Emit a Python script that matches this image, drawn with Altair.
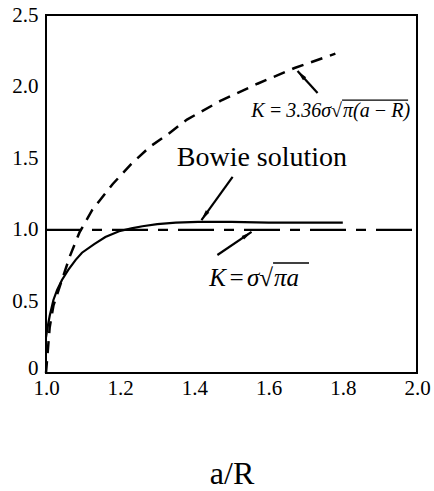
import math
import altair as alt
import pandas as pd

# Normalized stress intensity K / (sigma*sqrt(pi*a)) against crack length a/R
bowie_x = [1.0, 1.005, 1.01, 1.02, 1.03, 1.043, 1.06, 1.08, 1.097, 1.13, 1.16, 1.197, 1.23, 1.26, 1.3, 1.35, 1.41, 1.5, 1.6, 1.7, 1.8]
bowie_y = [0.25, 0.33, 0.40, 0.51, 0.58, 0.65, 0.72, 0.79, 0.84, 0.90, 0.95, 0.99, 1.01, 1.025, 1.04, 1.05, 1.055, 1.055, 1.05, 1.05, 1.05]

# Short-crack approximation K = 3.36 sigma sqrt(pi (a - R))
short_x = [1.0, 1.01, 1.02, 1.043, 1.065, 1.09, 1.125, 1.18, 1.23, 1.28, 1.33, 1.38, 1.47, 1.57, 1.67, 1.78]
short_y = [0.0, 0.32, 0.47, 0.65, 0.82, 0.98, 1.14, 1.32, 1.46, 1.58, 1.67, 1.77, 1.90, 2.02, 2.13, 2.23]

# Long-crack limit K = sigma sqrt(pi a)
long_x = [1.0, 2.0]
long_y = [1.0, 1.0]

x_ticks = [1.0, 1.2, 1.4, 1.6, 1.8, 2.0]
y_ticks = [0.0, 0.5, 1.0, 1.5, 2.0, 2.5]

FONT = "Liberation Serif, Times New Roman, Times, DejaVu Serif, serif"

# Curve name label
name_text = ["Bowie solution"]
name_x = [1.582]
name_y = [1.446]

# Formula labels: the part up to the radical sign ends at the anchor,
# the radicand starts there and carries an overbar
formula_pre = ["K\u2009=\u20093.36σ√", "K\u200a=\u200aσ√"]
formula_rad = ["π(a\u2009−\u2009R)", "πa"]
formula_x = [1.798, 1.612]
formula_y = [1.788, 0.608]
formula_size = [20, 25]
bar_x2 = [1.976, 1.709]
bar_y = [1.906, 0.768]

# Arrows (tail -> head, data units)
arrow_x1 = [1.503, 1.732, 1.462]
arrow_y1 = [1.369, 1.955, 0.824]
arrow_x2 = [1.419, 1.678, 1.554]
arrow_y2 = [1.068, 2.109, 0.985]

W, H = 371, 358
X_DOM, Y_DOM = (1.0, 2.0), (0.0, 2.5)
sx = W / (X_DOM[1] - X_DOM[0])
sy = H / (Y_DOM[1] - Y_DOM[0])

xs = alt.Scale(domain=list(X_DOM), nice=False, zero=False)
ys = alt.Scale(domain=list(Y_DOM), nice=False)

x_axis = alt.Axis(values=x_ticks, format=".1f", title="a/R", grid=False, ticks=False,
                  domain=False, labelFontSize=21, labelPadding=4, labelColor="black",
                  labelFont=FONT, titleFont=FONT, titleFontSize=32, titleFontWeight="normal",
                  titleColor="black", titleY=110, titleBaseline="alphabetic",
                  labelFlush=False)
y_axis = alt.Axis(values=y_ticks, title=None, grid=False, ticks=False, domain=False,
                  labelFontSize=21, labelPadding=8, labelColor="black", labelFont=FONT,
                  labelExpr="datum.value == 0 ? '0' : format(datum.value, '.1f')",
                  labelOffset={"condition": {"test": "datum.value == 0", "value": -5}, "value": 0},
                  labelFlush=False)

bowie_df = pd.DataFrame({"x": bowie_x, "y": bowie_y})
short_df = pd.DataFrame({"x": short_x, "y": short_y})
long_df = pd.DataFrame({"x": long_x, "y": long_y})

bowie = alt.Chart(bowie_df).mark_line(color="black", strokeWidth=2.2).encode(
    x=alt.X("x:Q", scale=xs, axis=x_axis),
    y=alt.Y("y:Q", scale=ys, axis=y_axis),
)
short = alt.Chart(short_df).mark_line(color="black", strokeWidth=2.5, strokeDash=[12, 8]).encode(
    x=alt.X("x:Q", scale=xs), y=alt.Y("y:Q", scale=ys)
)
long_ = alt.Chart(long_df).mark_line(color="black", strokeWidth=2.2, strokeDash=[36, 10, 10, 10]).encode(
    x=alt.X("x:Q", scale=xs), y=alt.Y("y:Q", scale=ys)
)

name_df = pd.DataFrame({"t": name_text, "x": name_x, "y": name_y})
name = alt.Chart(name_df).mark_text(
    font=FONT, fontSize=28, color="black", align="center", baseline="alphabetic"
).encode(x=alt.X("x:Q", scale=xs), y=alt.Y("y:Q", scale=ys), text="t:N")

formula_layers = []
for i in range(len(formula_pre)):
    fdf = pd.DataFrame({"pre": [formula_pre[i]], "rad": [formula_rad[i]],
                        "x": [formula_x[i]], "y": [formula_y[i]],
                        "x2": [bar_x2[i]], "yb": [bar_y[i]]})
    base = alt.Chart(fdf)
    pre = base.mark_text(font=FONT, fontSize=formula_size[i], fontStyle="italic",
                         color="black", align="right", baseline="alphabetic").encode(
        x=alt.X("x:Q", scale=xs), y=alt.Y("y:Q", scale=ys), text="pre:N")
    rad = base.mark_text(font=FONT, fontSize=formula_size[i], fontStyle="italic",
                         color="black", align="left", baseline="alphabetic", dx=1).encode(
        x=alt.X("x:Q", scale=xs), y=alt.Y("y:Q", scale=ys), text="rad:N")
    bar = base.mark_rule(color="black", strokeWidth=1.3).encode(
        x=alt.X("x:Q", scale=xs), x2="x2:Q", y=alt.Y("yb:Q", scale=ys))
    formula_layers += [pre, rad, bar]

# arrowhead angle from the on-screen direction of each arrow
angles = []
for x1, y1, x2, y2 in zip(arrow_x1, arrow_y1, arrow_x2, arrow_y2):
    dx = (x2 - x1) * sx
    dy = -(y2 - y1) * sy
    angles.append(math.degrees(math.atan2(dx, -dy)) % 360)

arrows_df = pd.DataFrame({"x1": arrow_x1, "y1": arrow_y1, "x2": arrow_x2,
                          "y2": arrow_y2, "ang": angles})
shafts = alt.Chart(arrows_df).mark_rule(color="black", strokeWidth=2.2).encode(
    x=alt.X("x1:Q", scale=xs), y=alt.Y("y1:Q", scale=ys), x2="x2:Q", y2="y2:Q"
)
heads = alt.Chart(arrows_df).mark_point(
    shape="M0,0L0.45,2.2L-0.45,2.2Z", filled=True, color="black", size=90, opacity=1
).encode(
    x=alt.X("x2:Q", scale=xs), y=alt.Y("y2:Q", scale=ys),
    angle=alt.Angle("ang:Q", scale=None),
)

chart = alt.layer(long_, short, bowie, shafts, heads, name, *formula_layers).properties(
    width=W, height=H,
    autosize=alt.AutoSizeParams(type="none"),
    padding={"left": 46, "top": 15, "right": 17, "bottom": 118},
    background="white",
).configure_view(stroke="black", strokeWidth=2)

chart.save("out.html", embed_options={"renderer": "svg", "actions": False})
